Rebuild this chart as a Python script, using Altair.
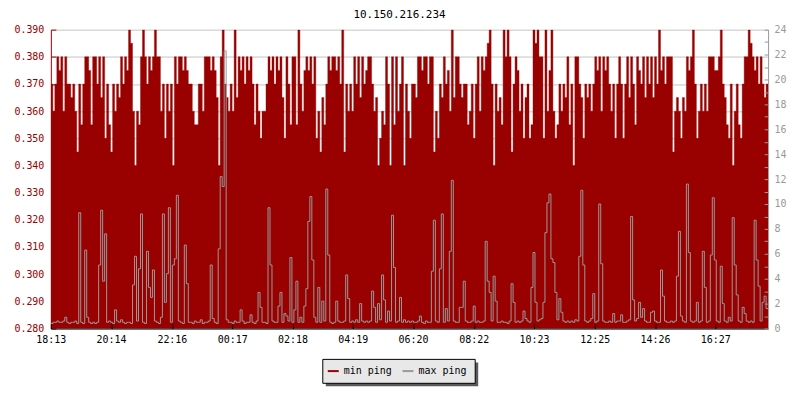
import altair as alt
import pandas as pd

title_text = "10.150.216.234"

# x axis: minutes after 18:13, with the label shown at each tick
tick_minutes = [0, 121, 243, 364, 485, 606, 727, 849, 970, 1092, 1213, 1334]
tick_labels = ["18:13", "20:14", "22:16", "00:17", "02:18", "04:19",
               "06:20", "08:22", "10:23", "12:25", "14:26", "16:27"]
span_minutes = 1440
sample_minutes = 4

left_ticks = [0.28, 0.29, 0.30, 0.31, 0.32, 0.33, 0.34, 0.35, 0.36, 0.37, 0.38, 0.39]
right_ticks = list(range(0, 25))

series_names = ["min ping", "max ping"]

min_ping = [
    0.37, 0.36, 0.37, 0.38, 0.375, 0.38, 0.36, 0.38, 0.37, 0.37,
    0.365, 0.37, 0.36, 0.345, 0.37, 0.355, 0.37, 0.38, 0.38, 0.375,
    0.355, 0.38, 0.38, 0.37, 0.38, 0.365, 0.38, 0.35, 0.37, 0.355,
    0.345, 0.37, 0.36, 0.37, 0.365, 0.38, 0.37, 0.38, 0.375, 0.39,
    0.385, 0.36, 0.34, 0.36, 0.355, 0.38, 0.39, 0.38, 0.37, 0.38,
    0.375, 0.38, 0.39, 0.38, 0.38, 0.36, 0.37, 0.35, 0.37, 0.36,
    0.37, 0.34, 0.38, 0.37, 0.38, 0.38, 0.375, 0.38, 0.375, 0.37,
    0.37, 0.36, 0.355, 0.355, 0.37, 0.37, 0.36, 0.38, 0.38, 0.38,
    0.375, 0.38, 0.375, 0.365, 0.34, 0.38, 0.39, 0.37, 0.365, 0.36,
    0.37, 0.36, 0.39, 0.365, 0.38, 0.375, 0.38, 0.37, 0.38, 0.375,
    0.38, 0.37, 0.355, 0.37, 0.36, 0.35, 0.36, 0.36, 0.37, 0.38,
    0.375, 0.38, 0.37, 0.38, 0.375, 0.38, 0.365, 0.35, 0.38, 0.37,
    0.355, 0.38, 0.38, 0.355, 0.39, 0.37, 0.36, 0.375, 0.38, 0.375,
    0.38, 0.37, 0.38, 0.35, 0.36, 0.345, 0.365, 0.355, 0.37, 0.38,
    0.375, 0.38, 0.38, 0.375, 0.38, 0.37, 0.39, 0.345, 0.37, 0.36,
    0.37, 0.36, 0.38, 0.37, 0.38, 0.365, 0.38, 0.37, 0.375, 0.38,
    0.38, 0.37, 0.36, 0.365, 0.34, 0.35, 0.36, 0.355, 0.38, 0.37,
    0.34, 0.38, 0.355, 0.38, 0.36, 0.37, 0.38, 0.34, 0.37, 0.36,
    0.35, 0.37, 0.37, 0.365, 0.38, 0.38, 0.375, 0.38, 0.38, 0.37,
    0.38, 0.38, 0.345, 0.36, 0.35, 0.37, 0.365, 0.38, 0.37, 0.375,
    0.36, 0.39, 0.365, 0.38, 0.38, 0.37, 0.365, 0.37, 0.37, 0.355,
    0.36, 0.37, 0.35, 0.37, 0.38, 0.36, 0.38, 0.375, 0.38, 0.385,
    0.39, 0.37, 0.34, 0.37, 0.36, 0.365, 0.355, 0.39, 0.38, 0.39,
    0.38, 0.345, 0.37, 0.38, 0.375, 0.36, 0.37, 0.35, 0.365, 0.37,
    0.35, 0.355, 0.39, 0.385, 0.39, 0.38, 0.38, 0.35, 0.39, 0.36,
    0.375, 0.39, 0.36, 0.35, 0.355, 0.37, 0.36, 0.37, 0.365, 0.38,
    0.355, 0.37, 0.34, 0.38, 0.38, 0.37, 0.365, 0.35, 0.37, 0.365,
    0.37, 0.36, 0.37, 0.38, 0.375, 0.38, 0.36, 0.38, 0.375, 0.38,
    0.37, 0.36, 0.37, 0.35, 0.37, 0.38, 0.37, 0.35, 0.37, 0.38,
    0.365, 0.38, 0.37, 0.355, 0.38, 0.375, 0.37, 0.38, 0.365, 0.38,
    0.37, 0.38, 0.365, 0.38, 0.37, 0.39, 0.375, 0.38, 0.37, 0.38,
    0.38, 0.38, 0.345, 0.36, 0.365, 0.36, 0.35, 0.365, 0.36, 0.38,
    0.375, 0.38, 0.39, 0.37, 0.35, 0.36, 0.37, 0.36, 0.37, 0.36,
    0.38, 0.38, 0.38, 0.375, 0.375, 0.38, 0.39, 0.37, 0.365, 0.355,
    0.35, 0.37, 0.34, 0.36, 0.37, 0.355, 0.35, 0.37, 0.38, 0.38,
    0.39, 0.385, 0.38, 0.375, 0.38, 0.37, 0.38, 0.37, 0.365, 0.37,
]

max_ping = [
    0.4, 0.5, 0.5, 0.6, 0.5, 0.5, 0.6, 0.9, 0.5, 0.4,
    0.5, 0.5, 0.6, 0.4, 9.3, 0.5, 0.4, 6.3, 0.9, 0.5,
    0.4, 0.5, 0.4, 0.5, 5.1, 9.5, 3.8, 7.6, 0.5, 0.6,
    0.5, 0.4, 1.5, 0.6, 0.5, 0.7, 0.5, 0.4, 0.5, 0.5,
    0.4, 3.5, 5.8, 0.6, 4.8, 9.2, 0.5, 0.4, 6.2, 3.3,
    2.5, 4.7, 0.6, 0.5, 0.4, 0.9, 9.2, 2.1, 4.4, 9.7,
    0.5, 5.1, 5.6, 10.7, 0.6, 0.5, 0.4, 6.7, 3.6, 0.5,
    0.5, 0.4, 0.6, 0.5, 0.5, 0.7, 0.4, 0.5, 0.5, 0.6,
    5.1, 0.8, 0.5, 0.4, 6.4, 12.2, 11.4, 22.3, 0.7, 0.5,
    0.5, 0.4, 0.6, 0.5, 0.5, 1.5, 0.6, 0.4, 0.5, 0.5,
    1.1, 0.5, 0.4, 0.6, 2.9, 1.7, 0.5, 0.5, 0.4, 9.7,
    5.1, 0.6, 0.5, 0.5, 1.8, 2.9, 0.5, 1.2, 1.0, 0.6,
    5.7, 0.5, 1.5, 3.8, 0.5, 0.9, 0.5, 1.8, 3.2, 8.6,
    10.6, 5.5, 0.9, 0.5, 3.3, 0.5, 2.2, 0.6, 11.2, 5.9,
    0.5, 0.4, 0.5, 2.2, 0.6, 0.5, 0.5, 0.6, 4.3, 2.4,
    0.5, 0.6, 0.5, 0.7, 0.5, 2.0, 0.6, 0.5, 0.6, 0.5,
    0.6, 3.0, 1.7, 0.5, 2.0, 0.7, 4.3, 2.3, 0.5, 1.4,
    0.6, 9.1, 4.9, 0.5, 0.6, 2.5, 0.5, 0.7, 0.5, 0.6,
    0.5, 0.6, 0.5, 0.5, 0.6, 1.0, 0.5, 0.4, 0.6, 0.5,
    0.5, 4.6, 8.7, 0.6, 0.5, 4.8, 9.2, 0.5, 1.6, 0.6,
    6.2, 11.9, 0.6, 0.5, 0.5, 1.7, 1.7, 3.8, 0.6, 0.5,
    0.5, 0.6, 1.8, 0.5, 0.6, 0.5, 0.5, 0.6, 7.0, 3.8,
    2.9, 0.6, 4.2, 2.2, 0.5, 0.5, 0.6, 0.5, 0.5, 0.4,
    0.6, 3.6, 2.1, 0.5, 0.6, 0.5, 0.6, 1.4, 0.8, 0.6,
    0.5, 3.3, 6.1, 2.1, 0.6, 0.7, 0.8, 2.1, 7.7, 10.1,
    10.8, 5.6, 5.3, 2.9, 0.7, 2.4, 1.3, 0.6, 0.5, 0.6,
    0.5, 0.6, 0.5, 0.7, 0.6, 5.8, 11.1, 5.1, 0.6, 0.5,
    0.6, 0.8, 2.8, 0.5, 0.6, 10.0, 5.2, 0.6, 0.5, 0.5,
    0.6, 0.5, 1.2, 0.5, 0.6, 0.6, 1.1, 0.5, 0.5, 0.6,
    0.7, 9.0, 2.3, 0.6, 0.8, 2.1, 0.9, 1.6, 0.6, 0.5,
    0.5, 1.3, 1.4, 0.6, 0.5, 0.5, 4.7, 2.6, 0.6, 0.5,
    0.5, 0.6, 0.5, 0.6, 4.2, 7.8, 1.0, 0.6, 0.5, 11.6,
    6.1, 0.6, 0.5, 0.6, 2.1, 0.5, 0.6, 6.2, 3.3, 0.5,
    0.6, 5.9, 10.5, 5.5, 0.6, 0.5, 5.0, 2.0, 0.6, 0.5,
    0.9, 0.6, 8.9, 5.1, 2.7, 0.6, 0.5, 1.7, 1.2, 0.6,
    0.5, 0.6, 0.5, 8.7, 5.5, 3.4, 0.6, 2.1, 2.6, 1.6,
]

# ---- table (last sample repeated to close the final step) ----
n = len(min_ping)
df = pd.DataFrame({
    "t": [i * sample_minutes for i in range(n)] + [span_minutes],
    "min": min_ping + [min_ping[-1]],
    "max": max_ping + [max_ping[-1]],
})

RED = "#990000"
GRAY = "#999999"
FONT = "DejaVu Sans Mono"
W, H = 720, 300

label_expr = ("[" + ",".join("'%s'" % s for s in tick_labels) + "][indexof(["
              + ",".join(str(m) for m in tick_minutes) + "], datum.value)]")

x_enc = alt.X(
    "t:Q",
    scale=alt.Scale(domain=[0, span_minutes], nice=False, zero=False),
    axis=alt.Axis(values=tick_minutes, labelExpr=label_expr, title=None, grid=False,
                  tickSize={"expr": "-5"}, labelPadding=11, domainColor="black",
                  tickColor="black", labelColor="black", labelFont=FONT,
                  labelFontSize=10, zindex=1, labelFlush=False, labelOverlap=False),
)

color_scale = alt.Scale(domain=series_names, range=[RED, GRAY])
legend = alt.Legend(
    title=None, orient="none", legendX=277, legendY=336, direction="horizontal",
    symbolType="stroke", symbolStrokeWidth=2, symbolSize=121, labelFont=FONT,
    labelFontSize=10, labelColor="black", columnPadding=6, labelOffset=4, padding=0,
)

y_min_scale = alt.Scale(domain=[0.28, 0.39], nice=False, zero=False)
y_min_axis = alt.Axis(values=left_ticks, format=".3f", title=None, grid=True,
                      gridColor="#c4c4c4", domainColor=RED, tickColor=RED,
                      labelColor=RED, tickSize={"expr": "-5"}, labelPadding=12,
                      labelFont=FONT, labelFontSize=10, zindex=0,
                      labelOverlap=False)

base = alt.Chart(df)

area = base.mark_area(interpolate="step-after", color=RED, clip=True).encode(
    x=x_enc,
    y=alt.Y("min:Q", scale=y_min_scale, axis=y_min_axis),
)

min_line = base.transform_calculate(series="'min ping'").mark_line(
    interpolate="step-after", clip=True, strokeWidth=0.4
).encode(
    x=x_enc,
    y=alt.Y("min:Q", scale=y_min_scale, axis=y_min_axis),
    color=alt.Color("series:N", scale=color_scale, legend=legend),
)

max_line = base.transform_calculate(series="'max ping'").mark_line(
    interpolate="step-after", clip=True, strokeWidth=1
).encode(
    x=x_enc,
    y=alt.Y("max:Q",
            scale=alt.Scale(domain=[0, 24], nice=False, zero=True),
            axis=alt.Axis(orient="right", values=right_ticks, title=None, grid=False,
                          labelExpr="datum.value % 2 == 0 ? datum.label : ''",
                          tickSize={"expr": "-4"}, labelPadding=10, domainColor=GRAY,
                          tickColor=GRAY, labelColor=GRAY, labelFont=FONT,
                          labelFontSize=10, zindex=1, labelOverlap=False)),
    color=alt.Color("series:N", scale=color_scale, legend=legend),
)

# legend box decoration (shadow + box) below the plot
box_data = alt.Data(values=[{"box": 1}])
shadow = alt.Chart(box_data).mark_rect(color="#5a5a5a").encode(
    x=alt.value(276), x2=alt.value(276 + 153),
    y=alt.value(334), y2=alt.value(334 + 24),
)
box = alt.Chart(box_data).mark_rect(color="#e8e8e8", stroke="black", strokeWidth=1).encode(
    x=alt.value(273), x2=alt.value(273 + 153),
    y=alt.value(331), y2=alt.value(331 + 24),
)

chart = alt.layer(
    shadow, box,
    alt.layer(area, min_line),
    max_line,
).resolve_scale(y="independent").properties(
    width=W, height=H,
    title=alt.TitleParams(title_text, font=FONT, fontSize=11, fontWeight="normal",
                          color="black", dx=-10, offset=5),
    padding={"left": 5, "top": 0, "right": 5, "bottom": 5},
    background="white",
).configure_view(stroke=None)

chart.save("out.html", embed_options={"renderer": "svg", "actions": False})
